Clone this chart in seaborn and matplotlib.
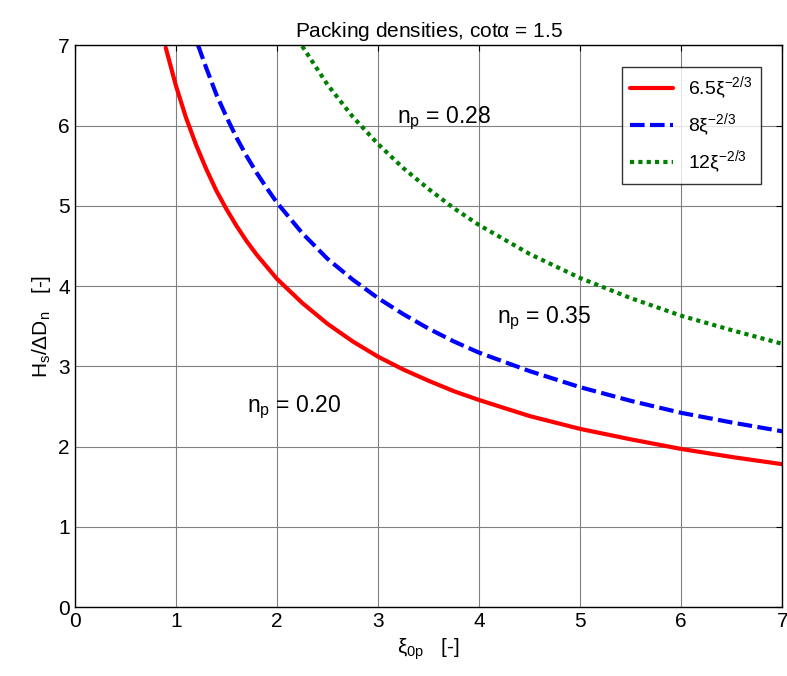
import matplotlib
matplotlib.use("Agg")
import matplotlib.pyplot as plt
import numpy as np
import pandas as pd
import seaborn as sns

# values
x_red = [0.9, 1.0, 1.1, 1.2, 1.3, 1.4, 1.5, 1.6, 1.7, 1.8, 1.9, 2.0, 2.25, 2.5, 2.75,
         3.0, 3.25, 3.5, 3.75, 4.0, 4.5, 5.0, 5.5, 6.0, 6.5, 7.0]
y_red = [6.97, 6.50, 6.10, 5.76, 5.46, 5.19, 4.96, 4.75, 4.56, 4.39, 4.24, 4.09, 3.79, 3.53, 3.31,
         3.12, 2.96, 2.82, 2.69, 2.58, 2.38, 2.22, 2.09, 1.97, 1.87, 1.78]

x_blue = [1.22, 1.3, 1.4, 1.5, 1.6, 1.7, 1.8, 1.9, 2.0, 2.25, 2.5, 2.75, 3.0, 3.25, 3.5,
          3.75, 4.0, 4.5, 5.0, 5.5, 6.0, 6.5, 7.0]
y_blue = [7.00, 6.72, 6.39, 6.11, 5.85, 5.62, 5.41, 5.22, 5.04, 4.66, 4.34, 4.08, 3.85, 3.65, 3.47,
          3.31, 3.17, 2.94, 2.74, 2.57, 2.42, 2.30, 2.19]

x_green = [2.25, 2.5, 2.75, 3.0, 3.25, 3.5, 3.75, 4.0, 4.5, 5.0, 5.5, 6.0, 6.5, 7.0]
y_green = [6.99, 6.51, 6.11, 5.77, 5.47, 5.21, 4.97, 4.76, 4.40, 4.10, 3.85, 3.63, 3.45, 3.28]

labels = [r"6.5$\xi^{-2/3}$", r"8$\xi^{-2/3}$", r"12$\xi^{-2/3}$"]
ticks = [0, 1, 2, 3, 4, 5, 6, 7]

sns.set_style("white")
plt.rcParams["font.family"] = ["Liberation Sans", "DejaVu Sans"]
plt.rcParams["mathtext.fontset"] = "custom"
plt.rcParams["mathtext.rm"] = "Liberation Sans"
plt.rcParams["mathtext.it"] = "Liberation Sans"
plt.rcParams["mathtext.default"] = "regular"
for k in ["text.color", "axes.labelcolor", "xtick.color", "ytick.color"]:
    plt.rcParams[k] = "black"

fig = plt.figure(figsize=(7.87, 6.76), dpi=100)
ax = fig.add_axes([0.095, 0.102, 0.899, 0.831])

df_r = pd.DataFrame({"x": x_red, "y": y_red})
df_b = pd.DataFrame({"x": x_blue, "y": y_blue})
df_g = pd.DataFrame({"x": x_green, "y": y_green})

sns.lineplot(data=df_r, x="x", y="y", ax=ax, color="red", lw=3, label=labels[0])
sns.lineplot(data=df_b, x="x", y="y", ax=ax, color="blue", lw=3, label=labels[1])
sns.lineplot(data=df_g, x="x", y="y", ax=ax, color="green", lw=3, label=labels[2])
ax.lines[1].set_dashes([3.5, 1.3])
ax.lines[2].set_dashes([1, 1])
for ln in ax.lines:
    ln.set_dash_capstyle("butt")

ax.set_xlim(0, 7)
ax.set_ylim(0, 7)
ax.set_xticks(ticks)
ax.set_yticks(ticks)
ax.grid(True, color="#808080", lw=0.8)
ax.tick_params(direction="in", labelsize=15, length=4, top=True, right=True, color="black")
for s in ax.spines.values():
    s.set_color("black")
    s.set_linewidth(1)

ax.set_title(r"Packing densities, cot$\alpha$ = 1.5", fontsize=15)
ax.set_xlabel(r"$\xi_{0p}$   [-]", fontsize=15)
ax.set_ylabel(r"$H_s/\Delta D_n$   [-]", fontsize=15)

ax.text(3.19, 6.09, r"$n_p$ = 0.28", fontsize=16.5, va="center")
ax.text(4.18, 3.6, r"$n_p$ = 0.35", fontsize=16.5, va="center")
ax.text(1.70, 2.49, r"$n_p$ = 0.20", fontsize=16.5, va="center")

leg = ax.legend(loc="upper right", bbox_to_anchor=(0.983, 0.979), fontsize=14,
                fancybox=False, frameon=True, handlelength=2.2, borderpad=0.4,
                labelspacing=0.5)
leg.get_frame().set_edgecolor("black")
leg.get_frame().set_linewidth(1)

fig.savefig("out.png", dpi=100)
